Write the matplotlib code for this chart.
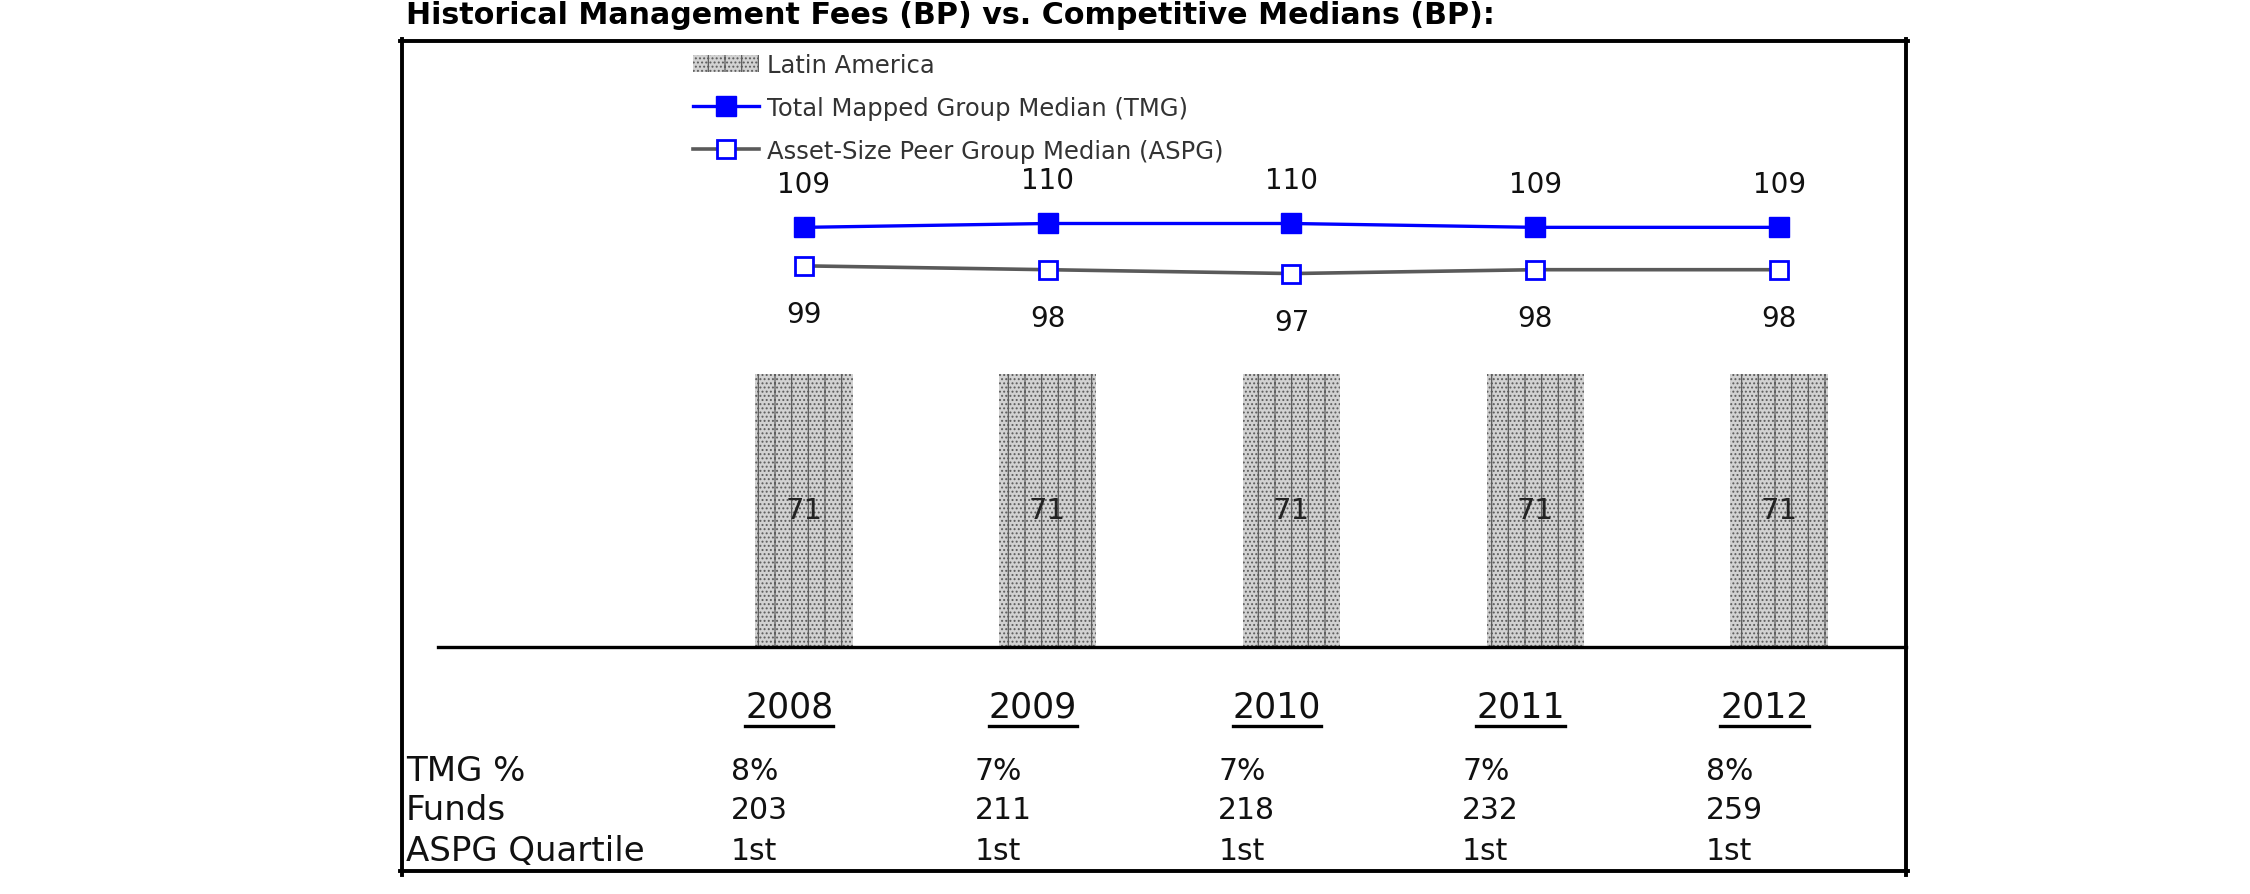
import numpy as np
import matplotlib
matplotlib.use("Agg")
import matplotlib.pyplot as plt
from matplotlib.lines import Line2D

# data
years = ["2008", "2009", "2010", "2011", "2012"]
latin_america = [71, 71, 71, 71, 71]
tmg_median = [109, 110, 110, 109, 109]
aspg_median = [99, 98, 97, 98, 98]
tmg_pct = ["8%", "7%", "7%", "7%", "8%"]
funds = ["203", "211", "218", "232", "259"]
aspg_quartile = ["1st", "1st", "1st", "1st", "1st"]
row_names = ["TMG %", "Funds", "ASPG Quartile"]

W, H = 2250, 895
plt.rcParams['font.family'] = ['DejaVu Sans']
plt.rcParams['hatch.linewidth'] = 0.9

fig = plt.figure(figsize=(W / 100, H / 100), dpi=100)

def fx(px):
    return px / W

def fy(py):
    return 1 - py / H

# plotting area: baseline at y=648px, 3.85px per bp
base_y, top_y = 648, 42
ax = fig.add_axes([fx(438), fy(base_y), fx(1906) - fx(438), fy(top_y) - fy(base_y)])
x = np.arange(len(years))
ax.set_xlim(-1.5, 4.52)
ax.set_ylim(0, (base_y - top_y) / 3.85)

bars = ax.bar(x, latin_america, width=0.4, color="#d2d2d2", edgecolor="#5c5c5c",
              hatch="|....", linewidth=0, label="Latin America")
for xi, v in zip(x, latin_america):
    ax.text(xi, v / 2, str(v), ha="center", va="center", fontsize=21, color="#222222")

l_tmg, = ax.plot(x, tmg_median, color="#0000ff", lw=2.4, marker="s", ms=14,
                 mfc="#0000ff", mec="#0000ff", label="Total Mapped Group Median (TMG)")
l_aspg, = ax.plot(x, aspg_median, color="#5a5a5a", lw=2.6, marker="s", ms=12.5,
                  mfc="white", mec="#0000ff", mew=2, label="Asset-Size Peer Group Median (ASPG)")

for xi, v in zip(x, tmg_median):
    ax.annotate(str(v), (xi, v), xytext=(0, 31), textcoords="offset points",
                ha="center", va="center", fontsize=20, color="#111111")
for xi, v in zip(x, aspg_median):
    ax.annotate(str(v), (xi, v), xytext=(0, -35), textcoords="offset points",
                ha="center", va="center", fontsize=20, color="#111111")

ax.set_xticks([])
ax.set_yticks([])
for s in ["top", "left", "right"]:
    ax.spines[s].set_visible(False)
ax.spines["bottom"].set_linewidth(2.4)
ax.patch.set_alpha(0)

leg = ax.legend(handles=[bars, l_tmg, l_aspg], loc="upper left",
                bbox_to_anchor=(fx(693), fy(54)),
                bbox_transform=fig.transFigure, frameon=False, fontsize=17.5,
                handlelength=2.7, handletextpad=0.33, labelspacing=0.78,
                borderpad=0, borderaxespad=0)
for t in leg.get_texts():
    t.set_color("#333333")

# table under the chart
trans = matplotlib.transforms.blended_transform_factory(ax.transData, fig.transFigure)
year_texts = []
for xi, yr in zip(x, years):
    year_texts.append(ax.text(xi - 0.06, fy(708), yr, transform=trans, ha="center",
                              va="center", fontsize=25, color="#111111"))
rows = [tmg_pct, funds, aspg_quartile]
row_y = [772, 811, 852]
for name, vals, ry in zip(row_names, rows, row_y):
    fig.text(fx(406), fy(ry), name, ha="left", va="center", fontsize=24.5, color="#111111")
    for xi, v in zip(x, vals):
        ax.text(xi - 0.3, fy(ry), v, transform=trans, ha="left", va="center",
                fontsize=21.5, color="#111111")

fig.text(fx(406), fy(16), "Historical Management Fees (BP) vs. Competitive Medians (BP):",
         ha="left", va="center", fontsize=21.7, fontweight="bold", color="black")

# frame around the chart
frame = [([400, 1908], [42, 42]), ([402, 402], [40, 876]),
         ([1906, 1906], [40, 876]), ([400, 1908], [872, 872])]
for xs, ys in frame:
    fig.add_artist(Line2D([fx(v) for v in xs], [fy(v) for v in ys], color="black",
                          lw=2.8, transform=fig.transFigure))

# underline the year labels
fig.canvas.draw()
r = fig.canvas.get_renderer()
for t in year_texts:
    bb = t.get_window_extent(r)
    fig.add_artist(Line2D([bb.x0 / W, bb.x1 / W], [fy(727), fy(727)], color="black",
                          lw=2.4, transform=fig.transFigure))

fig.savefig("out.png", dpi=100)
